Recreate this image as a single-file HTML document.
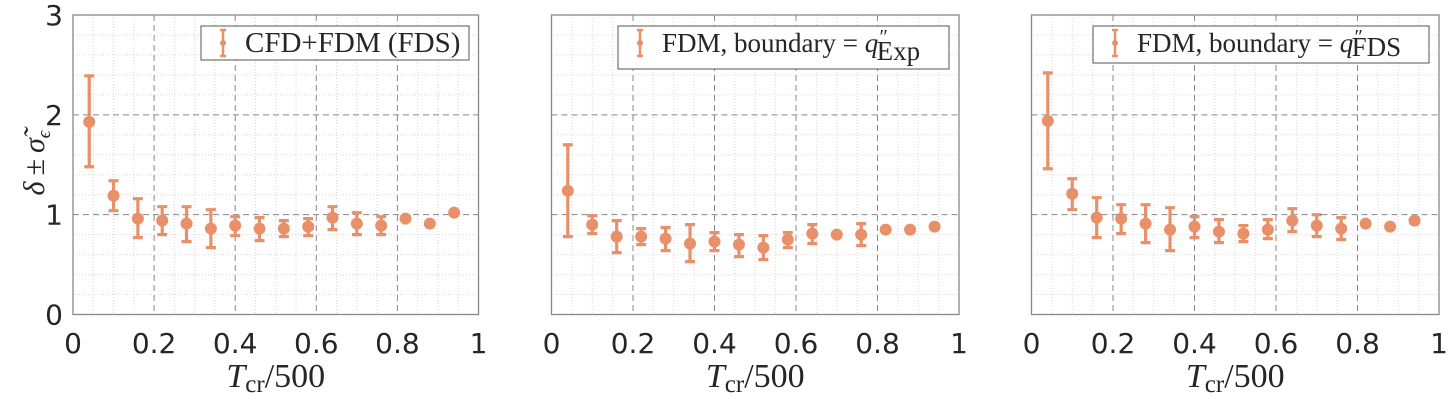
<!DOCTYPE html>
<html><head><meta charset="utf-8">
<style>
body{margin:0;background:#fff;}
svg{display:block;}
.tick{font-family:"DejaVu Sans","Liberation Sans",sans-serif;font-size:28px;fill:#262626;}
.lab{font-family:"Liberation Serif",serif;fill:#262626;}
</style></head>
<body>
<svg id="chart" width="1453" height="402" viewBox="0 0 1453 402" xmlns="http://www.w3.org/2000/svg"></svg>
<script>
const xVals=[0.04,0.10,0.16,0.22,0.28,0.34,0.40,0.46,0.52,0.58,0.64,0.70,0.76,0.82,0.88,0.94];
const p1Mid=[1.93,1.19,0.96,0.94,0.91,0.86,0.89,0.86,0.86,0.88,0.97,0.91,0.89,0.96,0.91,1.02];
const p1Hi=[2.39,1.34,1.16,1.08,1.08,1.05,0.98,0.97,0.94,0.96,1.08,1.02,0.98,null,null,null];
const p1Lo=[1.48,1.04,0.77,0.80,0.73,0.67,0.79,0.74,0.78,0.79,0.85,0.80,0.80,null,null,null];
const p2Mid=[1.24,0.90,0.78,0.78,0.76,0.71,0.73,0.70,0.67,0.75,0.81,0.80,0.80,0.85,0.85,0.88];
const p2Hi=[1.70,0.99,0.94,0.86,0.87,0.90,0.82,0.80,0.79,0.82,0.90,null,0.91,null,null,null];
const p2Lo=[0.78,0.81,0.62,0.70,0.64,0.53,0.64,0.58,0.55,0.67,0.71,null,0.69,null,null,null];
const p3Mid=[1.94,1.21,0.97,0.96,0.91,0.85,0.88,0.83,0.81,0.85,0.94,0.89,0.86,0.91,0.88,0.94];
const p3Hi=[2.42,1.36,1.17,1.10,1.10,1.07,0.98,0.95,0.89,0.95,1.06,1.00,0.97,null,null,null];
const p3Lo=[1.46,1.05,0.77,0.81,0.72,0.64,0.77,0.72,0.73,0.76,0.83,0.78,0.75,null,null,null];
const xTicks=[0,0.2,0.4,0.6,0.8,1];
const xTickLabels=["0","0.2","0.4","0.6","0.8","1"];
const yTicks=[0,1,2,3];

const NS="http://www.w3.org/2000/svg";
const svg=document.getElementById('chart');
const C="#E8906A";
function mk(tag,attrs,parent){const e=document.createElementNS(NS,tag);for(const k in attrs)e.setAttribute(k,attrs[k]);(parent||svg).appendChild(e);return e;}

const panels=[
 {x0:73,x1:478.5,mid:p1Mid,hi:p1Hi,lo:p1Lo,leg:[201,26,268,34],legText:'CFD+FDM (FDS)',sub:null,yLabels:true},
 {x0:551.5,x1:959,mid:p2Mid,hi:p2Hi,lo:p2Lo,leg:[618,26,331,43],legText:'FDM, boundary = ',sub:'Exp',yLabels:false},
 {x0:1031.5,x1:1439,mid:p3Mid,hi:p3Hi,lo:p3Lo,leg:[1093,26,336,37],legText:'FDM, boundary = ',sub:'FDS',yLabels:false}
];
const yTop=15,yBot=314.5;
panels.forEach((p,pi)=>{
 const g=mk('g',{});
 
 
 const X=v=>p.x0+(p.x1-p.x0)*v;
 const Y=v=>yBot-(yBot-yTop)*v/3;
 mk('rect',{x:p.x0,y:yTop,width:p.x1-p.x0,height:yBot-yTop,fill:'#fff'},g);
 for(let i=1;i<20;i++){if(i%4===0)continue;const x=X(i*0.05);
  const l=mk('line',{x1:x,x2:x,y1:yTop,y2:yBot,stroke:'#d6d6d6','stroke-width':1,'stroke-dasharray':'1 2'},g);
  }
 for(let i=1;i<15;i++){if(i%5===0)continue;const y=Y(i*0.2);
  const l=mk('line',{x1:p.x0,x2:p.x1,y1:y,y2:y,stroke:'#d6d6d6','stroke-width':1,'stroke-dasharray':'1 2'},g);
  }
 xTicks.slice(1,-1).forEach(t=>{const x=X(t);
  const l=mk('line',{x1:x,x2:x,y1:yTop,y2:yBot,stroke:'#888','stroke-width':1,'stroke-dasharray':'6 4'},g);
  });
 yTicks.slice(1,-1).forEach(t=>{const y=Y(t);
  const l=mk('line',{x1:p.x0,x2:p.x1,y1:y,y2:y,stroke:'#888','stroke-width':1,'stroke-dasharray':'6 4'},g);
  });
 const fr=mk('rect',{x:p.x0,y:yTop,width:p.x1-p.x0,height:yBot-yTop,fill:'none',stroke:'#888','stroke-width':1.3},g);
 
 xTicks.forEach((t,i)=>{const tx=mk('text',{x:X(t),y:353,'text-anchor':'middle',class:'tick'},g);tx.textContent=xTickLabels[i];
  });
 if(p.yLabels){yTicks.forEach(t=>{const tx=mk('text',{x:63,y:Y(t)+10,'text-anchor':'end',class:'tick'},g);tx.textContent=String(t);
  });}
 const xt=mk('text',{x:(p.x0+p.x1)/2,y:387,'text-anchor':'middle',class:'lab','font-size':34},g);
 
 const t1=mk('tspan',{'font-style':'italic'},xt);t1.textContent='T';
 const t2=mk('tspan',{'font-size':25,dy:5},xt);t2.textContent='cr';
 const t3=mk('tspan',{dy:-5},xt);t3.textContent='/500';
 xVals.forEach((xv,i)=>{const x=X(xv);
  if(p.hi[i]!==null){
   const e=mk('path',{d:`M${x},${Y(p.hi[i])}V${Y(p.lo[i])}M${x-5},${Y(p.hi[i])}h10M${x-5},${Y(p.lo[i])}h10`,stroke:C,'stroke-width':3.2,fill:'none'},g);
   }
  const c=mk('circle',{cx:x,cy:Y(p.mid[i]),r:6,fill:C},g);
  
 });
 const [lx,ly,lw,lh]=p.leg;
 const lg=mk('g',{},g);
 mk('rect',{x:lx,y:ly,width:lw,height:lh,fill:'#fff',stroke:'#555','stroke-width':1},lg);
 const mx=lx+22,my=ly+17;
 mk('path',{d:`M${mx},${my-13}V${my+13}M${mx-3},${my-13}h6M${mx-3},${my+13}h6`,stroke:C,'stroke-width':2.5,fill:'none'},lg);
 mk('circle',{cx:mx,cy:my,r:3,fill:C},lg);
 const lt=mk('text',{x:lx+44,y:ly+26,class:'lab','font-size':p.sub?27:29,fill:'#111'},lg);
 
 const a=mk('tspan',{},lt);a.textContent=p.legText;
 if(p.sub){const q=mk('tspan',{'font-style':'italic'},lt);q.textContent='q';
  const pr=mk('tspan',{'font-size':20,dy:-9,'font-style':'italic'},lt);pr.textContent='″';
  const s=mk('tspan',{dx:-10,dy:p.sub==='Exp'?17:13},lt);s.textContent=p.sub;}
});
const yt=mk('text',{x:0,y:0,class:'lab','font-size':30,'text-anchor':'middle',transform:'translate(44,163) rotate(-90)'});

const y1=mk('tspan',{'font-style':'italic'},yt);y1.textContent='δ';
const y2=mk('tspan',{},yt);y2.textContent='\u2009±\u2009';
const y3=mk('tspan',{'font-style':'italic'},yt);y3.textContent='σ̃';
const y4=mk('tspan',{'font-size':19,dy:6,'font-style':'italic'},yt);y4.textContent='ϵ';
</script>
</body></html>
